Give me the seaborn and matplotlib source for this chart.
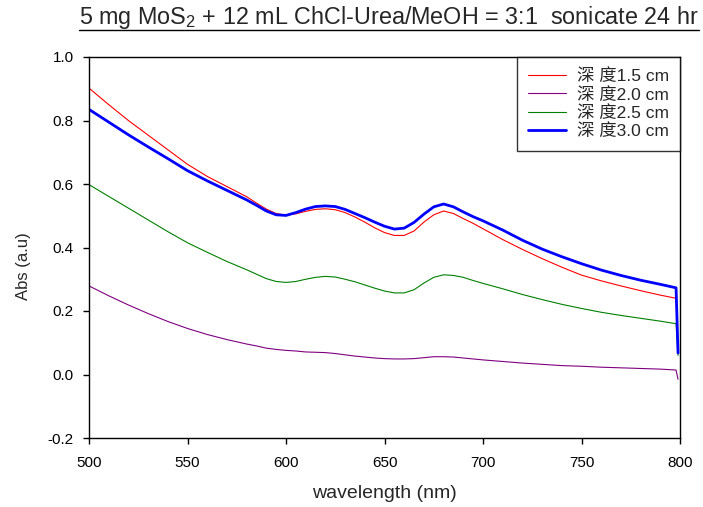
import numpy as np
import pandas as pd
import seaborn as sns
import matplotlib
matplotlib.use("Agg")
import matplotlib.pyplot as plt
from matplotlib.lines import Line2D

# ---- data ----
wavelength = [500, 510, 520, 530, 540, 550, 560, 570, 580,
              585, 590, 595, 600, 605, 610, 615, 620, 625, 630, 635, 640, 645, 650,
              655, 660, 665, 670, 675, 680, 685, 690, 695, 700,
              710, 720, 730, 740, 750, 760, 770, 780, 790, 798, 799]

abs_15 = [0.902, 0.850, 0.800, 0.754, 0.708, 0.662, 0.624, 0.592, 0.560,
          0.540, 0.521, 0.507, 0.502, 0.506, 0.514, 0.520, 0.522, 0.519, 0.510, 0.496, 0.480, 0.462, 0.447,
          0.438, 0.438, 0.452, 0.480, 0.503, 0.515, 0.507, 0.491, 0.476, 0.459,
          0.425, 0.394, 0.365, 0.338, 0.313, 0.295, 0.279, 0.264, 0.250, 0.240, 0.068]

abs_20 = [0.279, 0.248, 0.219, 0.192, 0.167, 0.145, 0.126, 0.110, 0.096,
          0.090, 0.083, 0.079, 0.076, 0.074, 0.071, 0.070, 0.069, 0.066, 0.062, 0.058, 0.055, 0.052, 0.050,
          0.049, 0.049, 0.050, 0.053, 0.056, 0.056, 0.055, 0.052, 0.049, 0.046,
          0.041, 0.036, 0.032, 0.028, 0.026, 0.023, 0.021, 0.019, 0.017, 0.014, -0.015]

abs_25 = [0.598, 0.561, 0.524, 0.487, 0.450, 0.415, 0.385, 0.356, 0.330,
          0.316, 0.302, 0.293, 0.290, 0.293, 0.300, 0.306, 0.309, 0.307, 0.300, 0.292, 0.282, 0.272, 0.263,
          0.257, 0.257, 0.267, 0.288, 0.306, 0.314, 0.312, 0.306, 0.296, 0.287,
          0.270, 0.252, 0.236, 0.221, 0.208, 0.196, 0.186, 0.177, 0.168, 0.160, 0.060]

abs_30 = [0.835, 0.795, 0.755, 0.717, 0.680, 0.642, 0.610, 0.580, 0.550,
          0.533, 0.515, 0.503, 0.501, 0.510, 0.521, 0.529, 0.531, 0.529, 0.520, 0.507, 0.494, 0.480, 0.467,
          0.458, 0.461, 0.479, 0.505, 0.528, 0.537, 0.528, 0.512, 0.497, 0.484,
          0.455, 0.423, 0.395, 0.371, 0.349, 0.329, 0.312, 0.297, 0.284, 0.273, 0.068]

labels = ["深 度1.5 cm", "深 度2.0 cm", "深 度2.5 cm", "深 度3.0 cm"]
colors = ["#ff0000", "#800080", "#008000", "#0000ff"]
widths = [0.8, 0.8, 0.8, 2.0]
xticks = [500, 550, 600, 650, 700, 750, 800]
yticks = [-0.2, 0.0, 0.2, 0.4, 0.6, 0.8, 1.0]

series = [abs_15, abs_20, abs_25, abs_30]
df = pd.concat([pd.DataFrame({"wavelength": wavelength, "abs": s, "label": lab})
                for s, lab in zip(series, labels)], ignore_index=True)

sns.set_theme(style="ticks")
plt.rcParams["font.family"] = ["Liberation Sans", "Noto Sans CJK TC", "DejaVu Sans"]
plt.rcParams["axes.unicode_minus"] = False
plt.rcParams["mathtext.fontset"] = "custom"
plt.rcParams["mathtext.rm"] = "Liberation Sans"
plt.rcParams["mathtext.it"] = "Liberation Sans"

fig = plt.figure(figsize=(7.03, 5.07), dpi=100)
ax = fig.add_axes([89 / 703, 1 - 438 / 507, (680 - 89) / 703, (438 - 57) / 507])

for lab, col, lw in zip(labels, colors, widths):
    sub = df[df["label"] == lab]
    sns.lineplot(data=sub, x="wavelength", y="abs", color=col, linewidth=lw,
                 label=lab, ax=ax, sort=False)

ax.set_xlim(500, 800)
ax.set_ylim(-0.2, 1.0)
ax.set_xticks(xticks)
ax.set_yticks(yticks)
ax.set_yticklabels([f"{v:.1f}" for v in yticks])
ax.tick_params(axis="both", direction="out", length=4, width=1, labelsize=11,
               colors="black")
ax.tick_params(axis="x", pad=9)
ax.tick_params(axis="y", pad=7)
ax.tick_params(top=False, right=False)
for sp in ax.spines.values():
    sp.set_visible(True)
    sp.set_color("black")
    sp.set_linewidth(1.0)

ax.set_xlabel("wavelength (nm)", fontsize=14, labelpad=11)
ax.set_ylabel("Abs (a.u)", fontsize=12, labelpad=12)
ax.yaxis.label.set_y((438 - 266) / 381)

leg = ax.legend(loc="upper right", borderaxespad=0, frameon=True, fancybox=False,
                fontsize=12.5, handlelength=2.2, handletextpad=0.6, labelspacing=0.15,
                borderpad=0.65, edgecolor="black")
leg.get_frame().set_linewidth(1.0)

title = ax.set_title(r"5 mg MoS$_2$ + 12 mL ChCl-Urea/MeOH = 3:1  sonicate 24 hr",
                     fontsize=16.8, pad=24, x=(389 - 89) / 591)

fig.canvas.draw()
bb = title.get_window_extent(renderer=fig.canvas.get_renderer())
uy = (bb.y0 + 1) / fig.bbox.height
fig.add_artist(Line2D([bb.x0 / fig.bbox.width, bb.x1 / fig.bbox.width], [uy, uy],
                      transform=fig.transFigure, color="black", linewidth=1.0))

fig.savefig("out.png", dpi=100)
